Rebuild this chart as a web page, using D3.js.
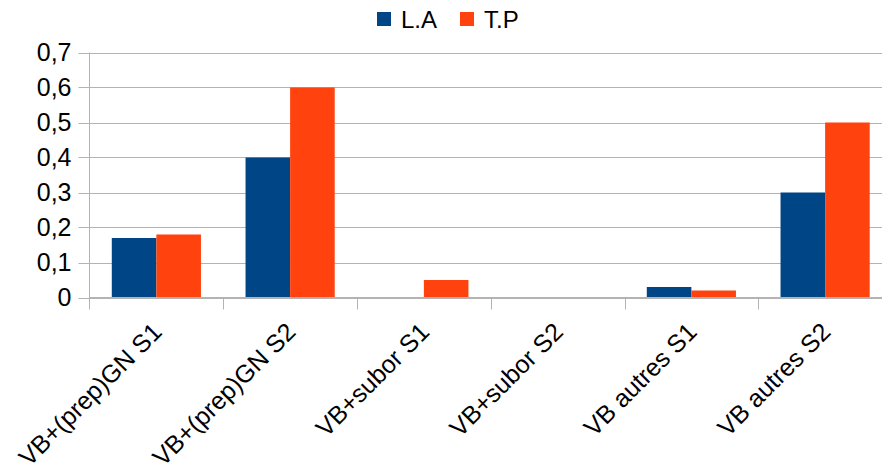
<!DOCTYPE html>
<html>
<head>
<meta charset="utf-8">
<script src="https://cdn.jsdelivr.net/npm/d3@7"></script>
<style>
    body { margin: 0; background: #fff; }
    svg { display: block; font-family: "Liberation Sans", Arial, sans-serif; }
</style>
</head>
<body>
<div id="chart"></div>
<script>
// categories and series
const categories = ["VB+(prep)GN S1", "VB+(prep)GN S2", "VB+subor S1", "VB+subor S2", "VB autres S1", "VB autres S2"];
const seriesNames = ["L.A", "T.P"];
const valuesLA = [0.17, 0.4, 0, 0, 0.03, 0.3];
const valuesTP = [0.18, 0.6, 0.05, 0, 0.02, 0.5];
const yTicks = [0, 0.1, 0.2, 0.3, 0.4, 0.5, 0.6, 0.7];
const colors = ["#004586", "#ff420e"];

const width = 882;
const height = 470;
const margin = { top: 52.5, left: 89.5, bottom: 297.5 };
const plotRight = 892; // plot runs a bit past the window edge

const svg = d3.select("#chart")
    .append("svg")
    .attr("width", width)
    .attr("height", height);

const locale = d3.formatLocale({ decimal: ",", thousands: " ", grouping: [3], currency: ["", ""] });
const fmt = v => v === 0 ? "0" : locale.format(".1f")(v);

// Scales
const yScale = d3.scaleLinear()
    .domain([0, 0.7])
    .range([margin.bottom, margin.top]);

const xScale = d3.scaleBand()
    .domain(categories)
    .range([margin.left, plotRight])
    .padding(0);

const xInner = d3.scaleBand()
    .domain(seriesNames)
    .range([xScale.bandwidth() / 6, xScale.bandwidth() * 5 / 6])
    .padding(0);

// Grid lines
svg.append("g")
    .selectAll("line")
    .data(yTicks)
    .enter()
    .append("line")
    .attr("x1", margin.left - 11)
    .attr("x2", width)
    .attr("y1", d => Math.round(yScale(d)) + 0.5)
    .attr("y2", d => Math.round(yScale(d)) + 0.5)
    .attr("stroke", "#b3b3b3")
    .attr("stroke-width", 1);

// Y axis labels
const axisY = d3.axisLeft(yScale).tickValues(yTicks).tickFormat(fmt).tickSize(0).tickPadding(18);
const gy = svg.append("g")
    .attr("transform", `translate(${margin.left}, 0)`)
    .call(axisY);
gy.select(".domain").remove();
gy.selectAll("text")
    .style("font-size", "25px")
    .style("font-family", "'Liberation Sans', Arial, sans-serif")
    .attr("fill", "#000");

// Bars
const table = categories.map((c, i) => ({ cat: c, values: [valuesLA[i], valuesTP[i]] }));

const groups = svg.selectAll(".cat-group")
    .data(table)
    .enter()
    .append("g")
    .attr("class", "cat-group")
    .attr("transform", d => `translate(${xScale(d.cat)}, 0)`);

groups.selectAll("rect")
    .data(d => d.values.map((v, j) => ({ name: seriesNames[j], value: v })))
    .enter()
    .append("rect")
    .attr("x", d => xInner(d.name))
    .attr("y", d => yScale(d.value))
    .attr("width", xInner.bandwidth())
    .attr("height", d => yScale(0) - yScale(d.value))
    .attr("fill", (d, j) => colors[j]);

// Axis lines on top
svg.append("line")
    .attr("x1", margin.left)
    .attr("x2", margin.left)
    .attr("y1", margin.top)
    .attr("y2", margin.bottom + 12)
    .attr("stroke", "#b3b3b3");

svg.append("line")
    .attr("x1", margin.left)
    .attr("x2", width)
    .attr("y1", margin.bottom)
    .attr("y2", margin.bottom)
    .attr("stroke", "#b3b3b3");

// category boundary ticks
svg.append("g")
    .selectAll("line")
    .data(categories.slice(1))
    .enter()
    .append("line")
    .attr("x1", d => Math.round(xScale(d)) + 0.5)
    .attr("x2", d => Math.round(xScale(d)) + 0.5)
    .attr("y1", margin.bottom)
    .attr("y2", margin.bottom + 12)
    .attr("stroke", "#b3b3b3");

// Category labels, rotated
svg.append("g")
    .selectAll("text")
    .data(categories)
    .enter()
    .append("text")
    .text(d => d)
    .attr("text-anchor", "end")
    .attr("transform", d => `translate(${xScale(d) + xScale.bandwidth() / 2 + 7}, ${margin.bottom + 36}) rotate(-45)`)
    .style("font-size", "25px")
    .attr("fill", "#000");

// Legend
const legend = svg.append("g");
const legendX = [377, 460];
seriesNames.forEach((name, i) => {
    legend.append("rect")
        .attr("x", legendX[i])
        .attr("y", 12)
        .attr("width", 14)
        .attr("height", 14)
        .attr("fill", colors[i]);
    legend.append("text")
        .attr("x", legendX[i] + 24)
        .attr("y", 28)
        .text(name)
        .style("font-size", "24px")
        .attr("fill", "#000");
});
</script>
</body>
</html>
